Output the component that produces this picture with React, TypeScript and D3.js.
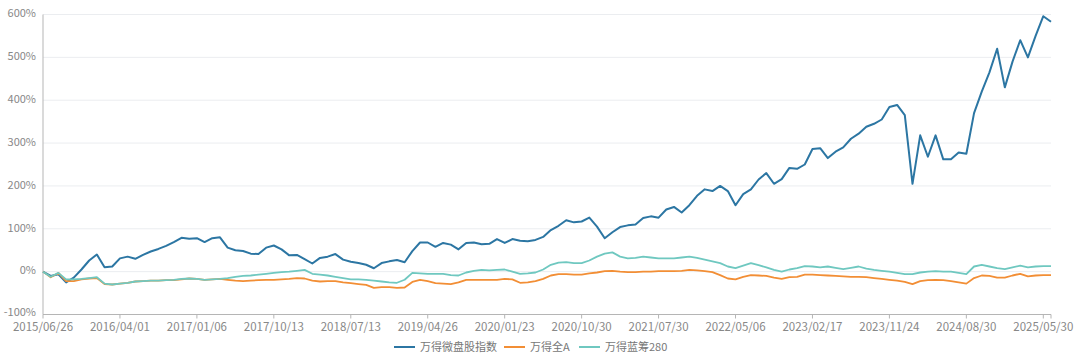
import React from "react";
import * as d3 from "d3";

// weekly closes, one label every 40 weeks
const xLabels = [
  "2015/06/26", "2016/04/01", "2017/01/06", "2017/10/13", "2018/07/13",
  "2019/04/26", "2020/01/23", "2020/10/30", "2021/07/30", "2022/05/06",
  "2023/02/17", "2023/11/24", "2024/08/30", "2025/05/30",
];
const LABEL_STEP = 40;
const SAMPLE_STEP = 4; // values below are read every 4th week
const TOTAL_WEEKS = 525;

const yTicks = [-100, 0, 100, 200, 300, 400, 500, 600];

// cumulative return, %
const microCap = [
  0, -10, -6, -25, -14, 5, 26, 40, 10, 12,
  31, 35, 30, 39, 47, 53, 60, 69, 79, 77,
  78, 69, 78, 80, 56, 50, 48, 42, 41, 56,
  61, 52, 38, 39, 29, 19, 32, 35, 41, 28,
  23, 20, 16, 8, 20, 24, 27, 22, 48, 68,
  68, 58, 67, 63, 52, 67, 68, 64, 65, 76,
  67, 76, 72, 71, 74, 81, 97, 107, 120, 115,
  117, 126, 105, 78, 92, 104, 108, 110, 125, 129,
  126, 145, 151, 138, 155, 177, 192, 188, 200, 188,
  155, 181, 192, 215, 230, 205, 216, 242, 240, 250,
  286, 288, 265, 280, 290, 310, 322, 338, 345, 355,
  384, 389, 365, 205, 318, 268, 318, 262, 262, 278,
  275, 370, 420, 465, 520, 430, 490, 540, 500, 550,
  596, 583,
];

const windA = [
  0, -13, -3, -22, -22, -18, -16, -15, -29, -30,
  -28, -26, -23, -22, -21, -21, -20, -20, -18, -16,
  -17, -19, -18, -17, -19, -21, -22, -21, -20, -19,
  -19, -18, -17, -15, -16, -21, -23, -22, -22, -25,
  -27, -29, -31, -38, -36, -36, -38, -37, -24, -19,
  -22, -27, -28, -29, -25, -19, -19, -19, -19, -19,
  -17, -18, -26, -25, -22, -17, -9, -6, -6, -7,
  -7, -4, -2, 1, 2, 0, -1, -1, 0, 0,
  1, 1, 1, 2, 4, 3, 1, -1, -8, -16,
  -18, -12, -8, -9, -10, -14, -17, -13, -12, -7,
  -7, -8, -9, -10, -11, -12, -12, -13, -15, -17,
  -19, -21, -24, -29, -22, -20, -19, -20, -22, -25,
  -28, -15, -9, -10, -14, -14, -9, -5, -11, -9,
  -8, -8,
];

const blueChip280 = [
  0, -12, -3, -18, -18, -17, -15, -13, -28, -30,
  -28, -26, -23, -22, -21, -21, -20, -19, -17, -16,
  -17, -19, -18, -17, -15, -12, -10, -9, -7, -5,
  -3, -1, 0, 2, 4, -5, -7, -9, -12, -15,
  -18, -18, -19, -21, -23, -25, -26, -19, -3, -4,
  -5, -5, -5, -8, -9, -2, 2, 4, 3, 4,
  5, 0, -5, -4, -2, 5, 16, 21, 22, 20,
  20, 26, 35, 42, 45, 35, 31, 32, 35, 33,
  31, 31, 31, 33, 35, 32, 28, 24, 20, 12,
  8, 14, 20, 15, 10, 4, 0, 5, 8, 13,
  12, 10, 12, 9, 6, 9, 12, 7, 4, 2,
  0, -3, -6, -6, -2, 0, 1, 0, 0, -3,
  -6, 12, 16, 12, 8, 6, 10, 14, 10, 12,
  13, 13,
];

const series = [
  { name: "万得微盘股指数", color: "#2c76a3", values: microCap, width: 2 },
  { name: "万得全A", color: "#f28e35", values: windA, width: 1.8 },
  { name: "万得蓝筹280", color: "#6fc8c0", values: blueChip280, width: 1.8 },
];

const FONT = "'Noto Sans CJK SC', 'Noto Sans', sans-serif";

export default function App() {
  const width = 1080;
  const height = 359;
  const left = 43;
  const right = 1051;
  const top = 14.5;
  const bottom = 314.5;

  const x = d3.scaleLinear().domain([0, TOTAL_WEEKS - 1]).range([left, right]);
  const y = d3.scaleLinear().domain([-100, 600]).range([bottom, top]);

  const line = d3
    .line<number>()
    .x((_, i) => x(i * SAMPLE_STEP))
    .y((d) => y(d));

  const tickIdx = xLabels.map((_, i) => i * LABEL_STEP);

  // legend layout
  const legendY = 347;
  const legendItems = [
    { x: 394, textX: 420 },
    { x: 504, textX: 530 },
    { x: 579, textX: 605 },
  ];

  return (
    <svg
      width={width}
      height={height}
      style={{ position: "absolute", left: 0, top: 0, background: "#fff" }}
      fontFamily={FONT}
    >
      {yTicks.map((t) => (
        <g key={t}>
          {t > -100 && (
            <line x1={left} x2={right} y1={y(t)} y2={y(t)} stroke="#ebedf0" strokeWidth={1} />
          )}
          <text
            x={36}
            y={y(t) - (t === -100 ? 2 : 1)}
            dy="0.35em"
            textAnchor="end"
            fontSize={11}
            fill="#888"
          >
            {t + "%"}
          </text>
        </g>
      ))}

      <line x1={left} x2={left} y1={top} y2={bottom} stroke="#b5b5b5" />
      <line x1={left} x2={right} y1={bottom} y2={bottom} stroke="#b5b5b5" />
      {[...tickIdx, TOTAL_WEEKS - 1].map((t) => (
        <line key={t} x1={x(t)} x2={x(t)} y1={bottom} y2={bottom + 4} stroke="#b5b5b5" />
      ))}
      {xLabels.map((lab, i) => (
        <text key={lab} x={x(tickIdx[i])} y={331} textAnchor="middle" fontSize={11.5} fill="#888">
          {lab}
        </text>
      ))}

      {series.map((s) => (
        <path
          key={s.name}
          d={line(s.values) || ""}
          fill="none"
          stroke={s.color}
          strokeWidth={s.width}
          strokeLinejoin="round"
        />
      ))}

      {series.map((s, i) => (
        <g key={s.name}>
          <line
            x1={legendItems[i].x}
            x2={legendItems[i].x + 21}
            y1={legendY}
            y2={legendY}
            stroke={s.color}
            strokeWidth={2}
          />
          <text x={legendItems[i].textX} y={legendY} dy="0.35em" fontSize={11} fill="#777">
            {s.name}
          </text>
        </g>
      ))}
    </svg>
  );
}
